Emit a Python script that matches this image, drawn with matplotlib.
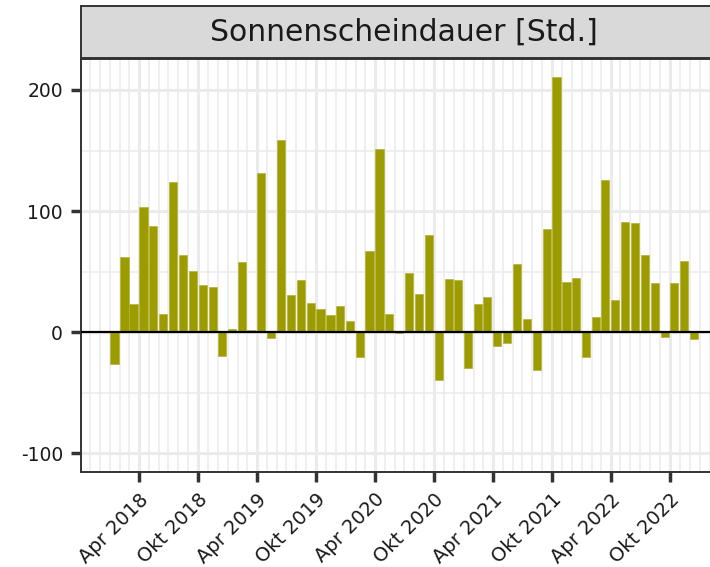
import numpy as np
import pandas as pd
import matplotlib
matplotlib.use("Agg")
import matplotlib.pyplot as plt
import matplotlib.dates as mdates
from matplotlib.ticker import FixedLocator, FuncFormatter

plt.rcParams['axes.unicode_minus'] = False

# monthly sunshine anomaly, Jan 2018 - Dec 2022 (bars at mid-month)
months = pd.date_range("2018-01-01", periods=60, freq="MS") + pd.Timedelta(days=14)
vals_2018 = [-26, 62, 23, 103.5, 87.6, 15.4, 123.7, 63.9, 50.4, 38.6, 37.5, -19.3]
vals_2019 = [3, 57.6, 2, 131.7, -4.4, 158.7, 31.1, 43.5, 24.5, 19, 14.6, 21.5]
vals_2020 = [9, -20.4, 67, 151, 15.2, -1, 48.5, 31.7, 80.4, -39.7, 44.3, 43.5]
vals_2021 = [-29.2, 23.4, 28.7, -11, -8.5, 56.7, 11, -31, 85.4, 210.5, 41.6, 44.9]
vals_2022 = [-20.7, 12.7, 125.3, 27, 90.9, 90, 63.9, 40.5, -3.6, 40.8, 58.4, -5.8]
values = vals_2018 + vals_2019 + vals_2020 + vals_2021 + vals_2022

title = "Sonnenscheindauer [Std.]"
month_names = {4: "Apr", 10: "Okt"}
y_ticks = [-100, 0, 100, 200]
y_minor = [-50, 50, 150]

bar_col = "#9C9C00"
dark = "#333333"

fig = plt.figure(figsize=(7.1, 5.67), dpi=100)

x = mdates.date2num(months.to_pydatetime())
width = 0.9 * 28  # ggplot default: 0.9 * resolution (days)
lo = x[0] - width / 2
hi = x[-1] + width / 2
pad = 0.05 * (hi - lo)
xmin, xmax = lo - pad, hi + pad

# panel runs off the right edge like in the original crop
left = 81.0 / 710
axw = 646.5 / 710
ax = fig.add_axes([left, 0.168, axw, 0.728])
ax.set_facecolor("white")

ax.bar(x, values, width=width, color=bar_col, edgecolor="#B3B33A", linewidth=0.5, zorder=3)
ax.axhline(0, color="black", linewidth=1.6, zorder=4)

ax.set_xlim(xmin, xmax)
ax.set_ylim(-115.2, 225.6)

major_dates = pd.date_range("2018-04-01", "2022-10-01", freq="6MS")
ax.xaxis.set_major_locator(FixedLocator(mdates.date2num(major_dates.to_pydatetime())))
ax.xaxis.set_major_formatter(FuncFormatter(
    lambda v, p: "%s %d" % (month_names[mdates.num2date(v).month], mdates.num2date(v).year)))
ax.xaxis.set_minor_locator(mdates.MonthLocator())
ax.set_yticks(y_ticks)
ax.set_yticks(y_minor, minor=True)

ax.grid(which="major", color="#EBEBEB", linewidth=2.2, zorder=0)
ax.grid(which="minor", color="#EBEBEB", linewidth=1.1, zorder=0)
ax.set_axisbelow(True)

ax.tick_params(which="major", length=7, width=2.5, color=dark, pad=6,
               labelsize=13.5, labelcolor="#1A1A1A")
ax.tick_params(axis="x", which="major", labelsize=14)
ax.tick_params(which="minor", length=0)
for lab in ax.get_xticklabels():
    lab.set_rotation(45)
    lab.set_ha("right")
    lab.set_va("top")
    lab.set_rotation_mode("anchor")

for s in ax.spines.values():
    s.set_color(dark)
    s.set_linewidth(1.4)

# facet strip
strip = fig.add_axes([left, 1 - 58.0 / 567, axw, 52.0 / 567])
strip.set_facecolor("#D9D9D9")
strip.set_xticks([])
strip.set_yticks([])
for s in strip.spines.values():
    s.set_color(dark)
    s.set_linewidth(1.4)
strip.text(0.5, 0.5, title, ha="center", va="center", fontsize=21.5,
           color="#1A1A1A", transform=strip.transAxes)

fig.savefig("out.png", dpi=100)
